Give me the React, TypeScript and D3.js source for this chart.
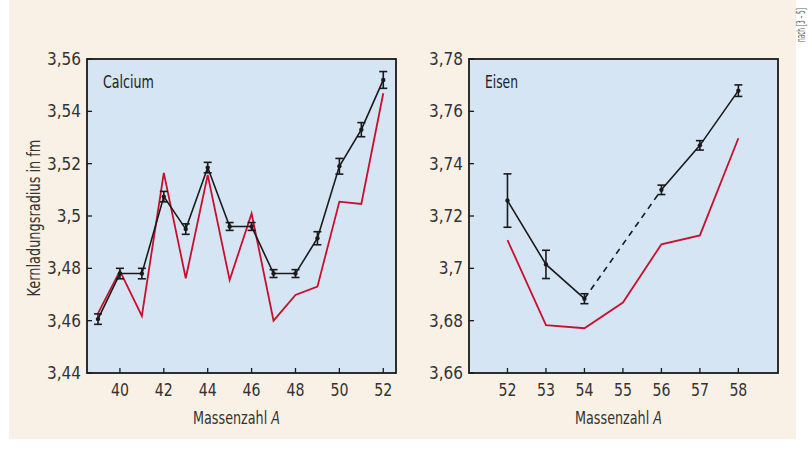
import React, { useLayoutEffect, useRef, useState } from 'react';
import * as d3 from 'd3';

const W = 809;
const H = 464;

// Calcium isotopes
const caMass = [39, 40, 41, 42, 43, 44, 45, 46, 47, 48, 49, 50, 51, 52];
const caExp = [3.4606, 3.478, 3.478, 3.5074, 3.495, 3.5185, 3.496, 3.496, 3.478, 3.478, 3.4915, 3.519, 3.533, 3.552];
const caErr = [0.002, 0.002, 0.002, 0.002, 0.002, 0.002, 0.0015, 0.0015, 0.0015, 0.0015, 0.0025, 0.003, 0.0027, 0.0032];
const caTheory = [3.4628, 3.479, 3.4618, 3.5165, 3.4762, 3.5157, 3.4755, 3.501, 3.46, 3.4698, 3.473, 3.5055, 3.5046, 3.5469];
const caXTicks = [40, 42, 44, 46, 48, 50, 52];
const caYTicks = [3.44, 3.46, 3.48, 3.5, 3.52, 3.54, 3.56];

// Eisen isotopes (55 not measured)
const feMass = [52, 53, 54, 56, 57, 58];
const feExp = [3.7259, 3.7015, 3.6884, 3.730, 3.747, 3.7679];
const feErr = [0.0102, 0.0054, 0.0019, 0.0018, 0.0018, 0.0022];
const feTheoryMass = [52, 53, 54, 55, 56, 57, 58];
const feTheory = [3.7108, 3.6783, 3.6771, 3.6869, 3.7092, 3.7126, 3.7497];
const feXTicks = [52, 53, 54, 55, 56, 57, 58];
const feYTicks = [3.66, 3.68, 3.7, 3.72, 3.74, 3.76, 3.78];

const font = "'Liberation Sans Narrow', 'DejaVu Sans Condensed', 'Roboto', sans-serif";
const beige = '#faf1e6';
const plotBg = '#d5e5f4';
const red = '#c8102e';
const ink = '#1a1a1a';

const top = 59;
const bottom = 373;

const fmt = (v: number) => {
  const s = d3.format('.2f')(v).replace(/0$/, '');
  return s.replace('.', ',');
};

// text squeezed horizontally to a given width (condensed look)
function Fit(props: {
  x: number; y: number; width: number; rotate?: number; anchor?: string;
  size: number; fill: string; children: React.ReactNode;
}) {
  const ref = useRef<SVGTextElement>(null);
  const [s, setS] = useState(1);
  useLayoutEffect(() => {
    if (ref.current) {
      const w = ref.current.getComputedTextLength();
      if (w > 0) setS(props.width / w);
    }
  }, [props.width]);
  return (
    <text
      ref={ref}
      transform={`translate(${props.x},${props.y}) rotate(${props.rotate || 0}) scale(${s},1)`}
      textAnchor={props.anchor || 'start'}
      fontSize={props.size}
      fill={props.fill}
    >
      {props.children}
    </text>
  );
}

type PanelProps = {
  left: number;
  right: number;
  xDomain: [number, number];
  yDomain: [number, number];
  xTicks: number[];
  yTicks: number[];
  label: string;
  labelLen: number;
  mass: number[];
  exp: number[];
  err: number[];
  thMass: number[];
  theory: number[];
};

function Panel(p: PanelProps) {
  const x = d3.scaleLinear().domain(p.xDomain).range([p.left, p.right]);
  const y = d3.scaleLinear().domain(p.yDomain).range([bottom, top]);
  const line = d3.line<[number, number]>().x(d => x(d[0])).y(d => y(d[1]));

  const expPts: [number, number][] = p.mass.map((m, i) => [m, p.exp[i]]);
  const thPts: [number, number][] = p.thMass.map((m, i) => [m, p.theory[i]]);

  // split measured line where a mass is skipped -> dashed
  const solidSegs: [number, number][][] = [];
  const dashSegs: [number, number][][] = [];
  let cur: [number, number][] = [expPts[0]];
  for (let i = 1; i < expPts.length; i++) {
    if (expPts[i][0] - expPts[i - 1][0] > 1) {
      solidSegs.push(cur);
      dashSegs.push([expPts[i - 1], expPts[i]]);
      cur = [expPts[i]];
    } else {
      cur.push(expPts[i]);
    }
  }
  solidSegs.push(cur);

  const cx = (p.left + p.right) / 2;

  return (
    <g>
      <rect x={p.left} y={top} width={p.right - p.left} height={bottom - top} fill={plotBg} />
      {p.xTicks.map(t => (
        <g key={'x' + t}>
          <line x1={x(t)} x2={x(t)} y1={bottom} y2={bottom - 5} stroke={ink} strokeWidth={1.3} />
          <Fit x={x(t)} y={396} width={18} anchor="middle" size={17} fill="#333">{t}</Fit>
        </g>
      ))}
      {p.yTicks.map(t => (
        <g key={'y' + t}>
          <line x1={p.left} x2={p.left + 5} y1={y(t)} y2={y(t)} stroke={ink} strokeWidth={1.3} />
          <text x={p.left - 6} y={y(t) + 6} textAnchor="end" fontSize={17} fill="#333">{fmt(t)}</text>
        </g>
      ))}
      <path d={line(thPts) || ''} fill="none" stroke={red} strokeWidth={1.8} />
      {solidSegs.map((s, i) => (
        <path key={'s' + i} d={line(s) || ''} fill="none" stroke={ink} strokeWidth={1.6} />
      ))}
      {dashSegs.map((s, i) => (
        <path key={'d' + i} d={line(s) || ''} fill="none" stroke={ink} strokeWidth={1.6} strokeDasharray="6,5" />
      ))}
      {p.mass.map((m, i) => {
        const px = x(m);
        const y0 = y(p.exp[i] - p.err[i]);
        const y1 = y(p.exp[i] + p.err[i]);
        return (
          <g key={'e' + m} stroke={ink} strokeWidth={1.6}>
            <line x1={px} x2={px} y1={y0} y2={y1} />
            <line x1={px - 4} x2={px + 4} y1={y0} y2={y0} />
            <line x1={px - 4} x2={px + 4} y1={y1} y2={y1} />
            <circle cx={px} cy={y(p.exp[i])} r={2.2} fill={ink} stroke="none" />
          </g>
        );
      })}
      <rect x={p.left} y={top} width={p.right - p.left} height={bottom - top} fill="none" stroke={ink} strokeWidth={1.8} />
      <Fit x={p.left + 16} y={88} width={p.labelLen} size={17} fill="#222">{p.label}</Fit>
      <Fit x={cx - 5} y={424} width={87} anchor="middle" size={17} fill="#333">
        Massenzahl <tspan fontStyle="italic">A</tspan>
      </Fit>
    </g>
  );
}

export default function App() {
  return (
    <svg width={W} height={H} style={{ position: 'absolute', left: 0, top: 0 }} fontFamily={font}>
      <rect x={0} y={0} width={W} height={H} fill="#ffffff" />
      <rect x={9} y={0} width={787} height={439} fill={beige} />
      <Panel
        left={87}
        right={396}
        xDomain={[38.5, 52.58]}
        yDomain={[3.44, 3.56]}
        xTicks={caXTicks}
        yTicks={caYTicks}
        label="Calcium"
        labelLen={51}
        mass={caMass}
        exp={caExp}
        err={caErr}
        thMass={caMass}
        theory={caTheory}
      />
      <Panel
        left={469}
        right={778}
        xDomain={[51, 59.03]}
        yDomain={[3.66, 3.78]}
        xTicks={feXTicks}
        yTicks={feYTicks}
        label="Eisen"
        labelLen={33}
        mass={feMass}
        exp={feExp}
        err={feErr}
        thMass={feTheoryMass}
        theory={feTheory}
      />
      <Fit x={40} y={218} rotate={-90} width={157} anchor="middle" size={17} fill="#333">
        Kernladungsradius in fm
      </Fit>
      <Fit x={805} y={42} rotate={-90} width={34} size={12} fill="#666">
        nach [3 – 5]
      </Fit>
    </svg>
  );
}
